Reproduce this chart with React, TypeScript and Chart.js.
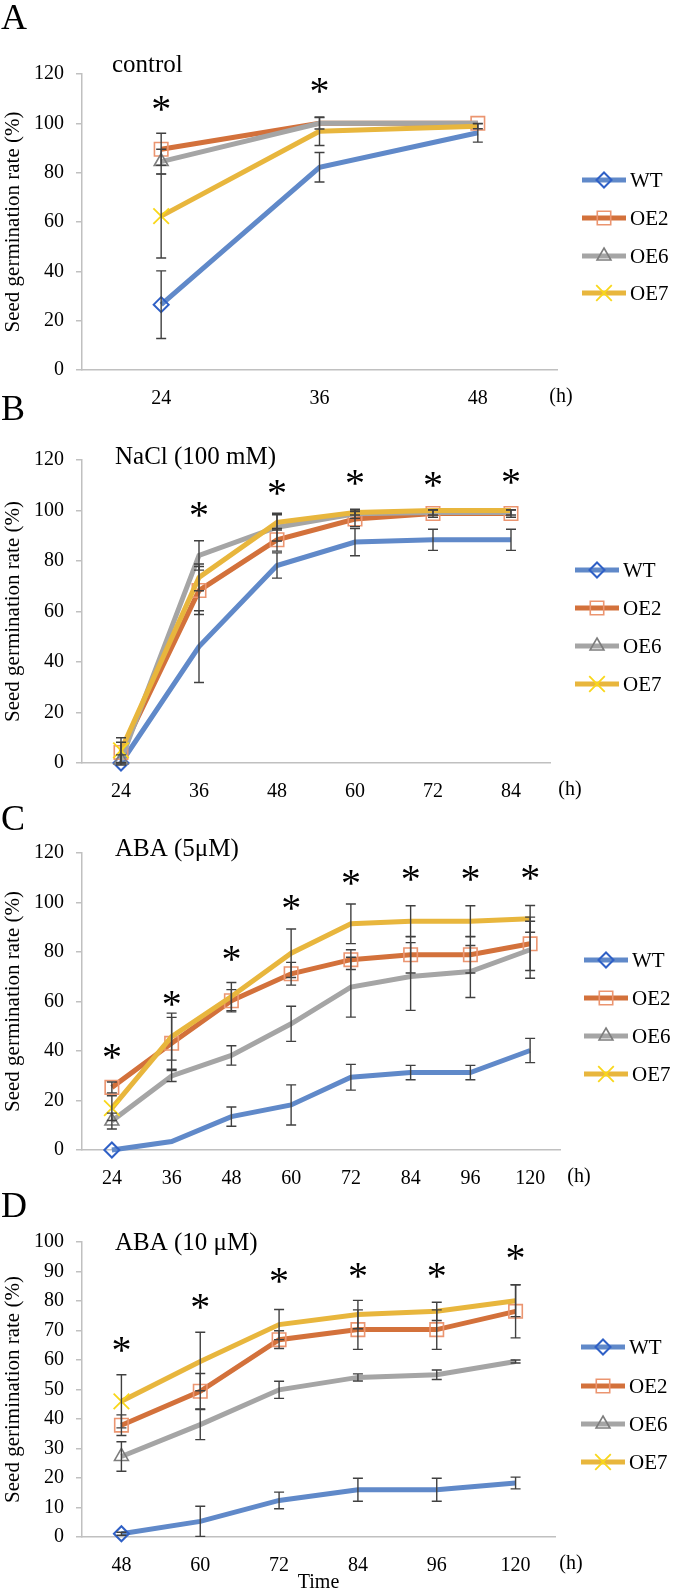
import React, { useEffect, useRef } from 'react';
import { Chart, registerables } from 'chart.js';
import { drawPoint } from 'chart.js/helpers';

Chart.register(...registerables);

const FONT = "'Liberation Serif', 'Times New Roman', Times, serif";

// ---------- Panel A: control ----------
const catsA = ['24', '36', '48'];
const wtA = [26.5, 82.2, 96.2];
const wtErrA = [13.7, 6, 3.8];
const oe2A = [89.5, 100, 100];
const oe2ErrA = [6.5, 0, 0];
const oe6A = [84.5, 100, 100];
const oe6ErrA = [5, 2.3, 0];
const oe7A = [62.4, 96.8, 98.8];
const oe7ErrA = [17, 5.8, 1];
const starA = [108, 115.5, null];

// ---------- Panel B: NaCl (100 mM) ----------
const catsB = ['24', '36', '48', '60', '72', '84'];
const wtB = [0, 46.1, 78.2, 87.5, 88.4, 88.4];
const wtErrB = [0, 14.2, 5, 5.4, 4.2, 4.2];
const oe2B = [4.2, 68.3, 88.4, 96.6, 98.8, 98.8];
const oe2ErrB = [4, 9.5, 4.5, 3, 1.5, 1.5];
const oe6B = [1.2, 82.2, 93.4, 98.7, 99.2, 99.2];
const oe6ErrB = [2, 5.8, 5.5, 1.8, 1, 1];
const oe7B = [5, 73.5, 95.3, 99.2, 100, 100];
const oe7ErrB = [5, 5.3, 3, 1, 0, 0];
const starB = [null, 100.2, 109.3, 112.9, 112.1, 113.3];

// ---------- Panel C: ABA (5 uM) ----------
const catsC = ['24', '36', '48', '60', '72', '84', '96', '120'];
const wtC = [0, 3.4, 13.5, 18.2, 29.4, 31.3, 31.3, 40.2];
const wtErrC = [0, 0, 3.9, 8.1, 5.2, 2.9, 2.9, 4.9];
const oe2C = [25.3, 43.1, 60.3, 71.2, 76.9, 78.9, 78.9, 83.3];
const oe2ErrC = [2.2, 10.5, 4.5, 4.6, 4, 7.4, 7.4, 10.8];
const oe6C = [11.7, 29.9, 38.2, 51, 65.8, 70.1, 72.1, 80.9];
const oe6ErrC = [3.2, 2.2, 3.9, 7.1, 12.1, 13.7, 10.5, 11.5];
const oe7C = [16.9, 45.8, 62, 79.5, 91.4, 92.4, 92.4, 93.4];
const oe7ErrC = [5, 9.5, 5.7, 9.8, 8, 6.3, 6.3, 5.4];
const starC = [39.6, 61.4, 79.2, 99.8, 110.3, 111.9, 111.9, 112.3];

// ---------- Panel D: ABA (10 uM) ----------
const catsD = ['48', '60', '72', '84', '96', '120'];
const wtD = [1.1, 5.3, 12.4, 16, 16, 18.3];
const wtErrD = [0.5, 5.1, 2.8, 3.9, 3.9, 2];
const oe2D = [37.9, 49.4, 66.9, 70.3, 70.3, 76.5];
const oe2ErrD = [3.5, 6, 3, 6.7, 6.7, 9];
const oe6D = [27.3, 38.1, 49.9, 54.1, 55, 59.5];
const oe6ErrD = [5, 5.1, 2.9, 1.2, 1.6, 0.5];
const oe7D = [46, 59.5, 72, 75.4, 76.5, 80.1];
const oe7ErrD = [9, 9.9, 5.1, 4.8, 3.1, 5.4];
const starD = [65.4, 79.7, 88.5, 90.2, 90.2, 96.3];

// which points show a marker (1) and which do not (0)
const markA = [[1, 0, 0], [1, 0, 1], [1, 0, 0], [1, 0, 0]];
const markB = [[1, 0, 0, 0, 0, 0], [1, 1, 1, 1, 1, 1], [1, 0, 0, 0, 0, 0], [1, 0, 0, 0, 0, 0]];
const markC = [[1, 0, 0, 0, 0, 0, 0, 0], [1, 1, 1, 1, 1, 1, 1, 1], [1, 0, 0, 0, 0, 0, 0, 0], [1, 0, 0, 0, 0, 0, 0, 0]];
const markD = [[1, 0, 0, 0, 0, 0], [1, 1, 1, 1, 1, 1], [1, 0, 0, 0, 0, 0], [1, 0, 0, 0, 0, 0]];

const seriesNames = ['WT', 'OE2', 'OE6', 'OE7'];

const STYLES = [
  { line: '#6089c9', mark: '#2f60c6', shape: 'rectRot', r: 7.5, bw: 2 },
  { line: '#d3713b', mark: '#eb9570', shape: 'rect', r: 9.5, bw: 1.6 },
  { line: '#a5a5a5', mark: '#7d7d7d', shape: 'triangle', r: 8, bw: 1.6 },
  { line: '#e8b63d', mark: '#f9d71a', shape: 'crossRot', r: 11, bw: 1.8 },
];

type Spec = {
  letter: string;
  title: string;
  top: number;
  height: number;
  cats: string[];
  series: number[][];
  errors: number[][];
  marks: number[][];
  stars: (number | null)[];
  yMax: number;
  yStep: number;
  area: { left: number; right: number; top: number; bottom: number };
  yTitle: string;
  xTitle?: string;
  legendTextX: number;
  legendYs: number[];
  titleX: number;
  titleY: number;
  letterBase: number;
  hX: number;
};

const panels: Spec[] = [
  {
    letter: 'A', title: 'control', top: 0, height: 420,
    cats: catsA, series: [wtA, oe2A, oe6A, oe7A], errors: [wtErrA, oe2ErrA, oe6ErrA, oe7ErrA],
    marks: markA, stars: starA, yMax: 120, yStep: 20,
    area: { left: 82, right: 557, top: 74, bottom: 370 },
    yTitle: 'Seed germination rate (%)',
    legendTextX: 630, legendYs: [180, 218, 256, 293],
    titleX: 112, titleY: 65, letterBase: 29, hX: 561,
  },
  {
    letter: 'B', title: 'NaCl (100 mM)', top: 390, height: 420,
    cats: catsB, series: [wtB, oe2B, oe6B, oe7B], errors: [wtErrB, oe2ErrB, oe6ErrB, oe7ErrB],
    marks: markB, stars: starB, yMax: 120, yStep: 20,
    area: { left: 82, right: 550, top: 70, bottom: 373 },
    yTitle: 'Seed germination rate (%)',
    legendTextX: 623, legendYs: [180, 218, 256, 294],
    titleX: 115, titleY: 67, letterBase: 30, hX: 570,
  },
  {
    letter: 'C', title: 'ABA (5μM)', top: 800, height: 400,
    cats: catsC, series: [wtC, oe2C, oe6C, oe7C], errors: [wtErrC, oe2ErrC, oe6ErrC, oe7ErrC],
    marks: markC, stars: starC, yMax: 120, yStep: 20,
    area: { left: 82, right: 560, top: 53, bottom: 350 },
    yTitle: 'Seed germination rate (%)',
    legendTextX: 632, legendYs: [160, 198, 236, 274],
    titleX: 115, titleY: 49, letterBase: 30, hX: 579,
  },
  {
    letter: 'D', title: 'ABA (10 μM)', top: 1190, height: 405,
    cats: catsD, series: [wtD, oe2D, oe6D, oe7D], errors: [wtErrD, oe2ErrD, oe6ErrD, oe7ErrD],
    marks: markD, stars: starD, yMax: 100, yStep: 10,
    area: { left: 82, right: 555, top: 52, bottom: 347 },
    yTitle: 'Seed gerimination rate (%)', xTitle: 'Time',
    legendTextX: 629, legendYs: [157, 196, 234, 272],
    titleX: 115, titleY: 53, letterBase: 27, hX: 571,
  },
];

function makeDecor(spec: Spec) {
  return {
    id: 'decor' + spec.letter,
    afterDatasetsDraw(chart: any) {
      const ctx = chart.ctx;
      const ys = chart.scales.y;
      ctx.save();
      ctx.strokeStyle = '#404040';
      ctx.lineWidth = 1.4;
      spec.series.forEach((vals, i) => {
        const meta = chart.getDatasetMeta(i);
        vals.forEach((v, j) => {
          const e = spec.errors[i][j];
          if (!e) return;
          const x = meta.data[j].x;
          const y1 = ys.getPixelForValue(v + e);
          const y2 = ys.getPixelForValue(v - e);
          ctx.beginPath();
          ctx.moveTo(x, y1);
          ctx.lineTo(x, y2);
          ctx.moveTo(x - 5, y1);
          ctx.lineTo(x + 5, y1);
          ctx.moveTo(x - 5, y2);
          ctx.lineTo(x + 5, y2);
          ctx.stroke();
        });
      });
      ctx.restore();
    },
    afterDraw(chart: any) {
      const ctx = chart.ctx;
      const xs = chart.scales.x;
      const ys = chart.scales.y;
      ctx.save();
      ctx.fillStyle = '#000';
      // asterisks
      ctx.font = `40px ${FONT}`;
      ctx.textAlign = 'center';
      ctx.textBaseline = 'alphabetic';
      const m = ctx.measureText('*');
      const off = (m.actualBoundingBoxAscent - m.actualBoundingBoxDescent) / 2;
      spec.stars.forEach((s, j) => {
        if (s === null) return;
        const x = xs.getPixelForValue(j);
        const y = ys.getPixelForValue(s);
        ctx.fillText('*', x, y + off);
      });
      // panel title
      ctx.textAlign = 'left';
      ctx.textBaseline = 'middle';
      ctx.font = `25px ${FONT}`;
      ctx.fillText(spec.title, spec.titleX, spec.titleY);
      // panel letter
      ctx.textBaseline = 'alphabetic';
      ctx.font = `36px ${FONT}`;
      ctx.fillText(spec.letter, 1, spec.letterBase);
      // unit label
      ctx.textAlign = 'center';
      ctx.textBaseline = 'middle';
      ctx.font = `20px ${FONT}`;
      const tickY = chart.chartArea.bottom + 27;
      ctx.fillText('(h)', spec.hX, tickY);
      // legend
      spec.legendYs.forEach((ly, i) => {
        const st = STYLES[i];
        const x1 = spec.legendTextX - 48;
        const x2 = spec.legendTextX - 4;
        ctx.strokeStyle = st.line;
        ctx.lineWidth = 5;
        ctx.beginPath();
        ctx.moveTo(x1, ly);
        ctx.lineTo(x2, ly);
        ctx.stroke();
        ctx.strokeStyle = st.mark;
        ctx.fillStyle = 'rgba(0,0,0,0)';
        ctx.lineWidth = st.bw;
        drawPoint(ctx, { pointStyle: st.shape, rotation: 0, radius: st.r, borderWidth: st.bw } as any, (x1 + x2) / 2, ly);
        ctx.fillStyle = '#000';
        ctx.textAlign = 'left';
        ctx.textBaseline = 'middle';
        ctx.font = `21px ${FONT}`;
        ctx.fillText(seriesNames[i], spec.legendTextX, ly + 1);
      });
      ctx.restore();
    },
  };
}

function Panel({ spec }: { spec: Spec }) {
  const ref = useRef<HTMLCanvasElement | null>(null);
  useEffect(() => {
    if (!ref.current) return;
    const a = spec.area;
    const datasets = spec.series.map((vals, i) => {
      const st = STYLES[i];
      return {
        label: seriesNames[i],
        data: vals,
        borderColor: st.line,
        backgroundColor: 'rgba(0,0,0,0)',
        borderWidth: 5,
        tension: 0,
        order: 3 - i,
        pointStyle: st.shape,
        pointRadius: spec.marks[i].map((k) => (k ? st.r : 0)),
        pointBorderColor: st.mark,
        pointBackgroundColor: 'rgba(0,0,0,0)',
        pointBorderWidth: st.bw,
        pointHoverRadius: 0,
        clip: false as any,
      };
    });
    const chart = new Chart(ref.current, {
      type: 'line',
      data: { labels: spec.cats, datasets },
      options: {
        responsive: false,
        maintainAspectRatio: false,
        animation: false,
        devicePixelRatio: 1,
        events: [],
        layout: { padding: { left: 0, top: a.top, right: 675 - a.right, bottom: 0 } },
        plugins: { legend: { display: false }, tooltip: { enabled: false }, title: { display: false } },
        scales: {
          x: {
            type: 'category',
            offset: true,
            grid: { display: false },
            border: { display: true, color: '#c0c0c0', width: 1.5 },
            ticks: { font: { family: FONT, size: 20 }, color: '#000', padding: 9, maxRotation: 0, autoSkip: false },
            title: spec.xTitle
              ? { display: true, text: spec.xTitle, font: { family: FONT, size: 20 }, color: '#000', padding: 0 }
              : { display: false },
            afterFit: (s: any) => { s.height = spec.height - a.bottom; },
          },
          y: {
            min: 0,
            max: spec.yMax,
            ticks: { stepSize: spec.yStep, font: { family: FONT, size: 20 }, color: '#000', padding: 12 },
            grid: { drawOnChartArea: false, drawTicks: true, tickLength: 6, color: '#c0c0c0', lineWidth: 1.5 },
            border: { display: true, color: '#c0c0c0', width: 1.5 },
            title: { display: true, text: spec.yTitle, font: { family: FONT, size: 21 }, color: '#000', padding: { top: 1, bottom: 0 } },
            afterFit: (s: any) => { s.width = a.left; },
          },
        },
      } as any,
      plugins: [makeDecor(spec)],
    });
    return () => chart.destroy();
  }, [spec]);
  return (
    <canvas
      ref={ref}
      width={675}
      height={spec.height}
      style={{ position: 'absolute', left: 0, top: spec.top, width: 675, height: spec.height }}
    />
  );
}

export default function App() {
  return (
    <div style={{ position: 'absolute', left: 0, top: 0, width: 675, height: 1595, background: '#fff' }}>
      {panels.map((p) => (
        <Panel key={p.letter} spec={p} />
      ))}
    </div>
  );
}
